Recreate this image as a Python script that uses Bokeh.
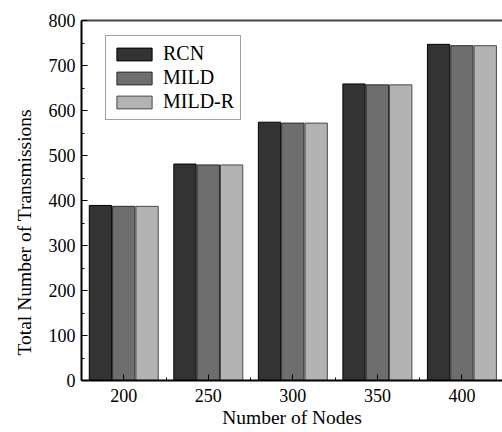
from bokeh.plotting import figure
from bokeh.models import (Range1d, LinearAxis, FixedTicker, Legend, LegendItem,
                          ColumnDataSource, Title)
from bokeh.embed import file_html
from bokeh.resources import INLINE

nodes = [200, 250, 300, 350, 400]
rcn = [389, 481, 574, 659, 747]
mild = [387, 479, 572, 657, 744]
mild_r = [387, 479, 572, 657, 744]
series_names = ["RCN", "MILD", "MILD-R"]
colors = ["#333333", "#6e6e6e", "#b3b3b3"]
edge_colors = ["#000000", "#2a2a2a", "#4a4a4a"]
x_ticks = nodes
x_minor = [225, 275, 325, 375]
y_ticks = list(range(0, 801, 100))
y_minor = list(range(50, 800, 100))

FONT = "Liberation Serif"

p = figure(width=502, height=432, output_backend="svg", toolbar_location=None,
           x_range=Range1d(175, 424), y_range=Range1d(0, 800),
           min_border_left=81, min_border_right=0, min_border_top=20, min_border_bottom=52)
p.outline_line_color = None
p.grid.grid_line_color = None
p.background_fill_color = "white"

offsets = [-13.8, 0, 13.8]
renderers = []
for name, vals, col, ec, off in zip(series_names, [rcn, mild, mild_r], colors, edge_colors, offsets):
    src = ColumnDataSource(dict(x=[n + off for n in nodes], top=vals))
    r = p.vbar(x="x", top="top", width=13.2, bottom=0, source=src,
               fill_color=col, line_color=ec, line_width=1)
    renderers.append((name, r))

for ax in p.xaxis + p.yaxis:
    ax.axis_line_color = "black"
    ax.axis_line_width = 2
    ax.major_tick_line_color = "black"
    ax.minor_tick_line_color = "black"
    ax.major_tick_in = 6
    ax.major_tick_out = 0
    ax.minor_tick_in = 3
    ax.minor_tick_out = 0
    ax.major_label_text_font = FONT
    ax.major_label_text_font_size = "18px"
    ax.major_label_text_color = "black"
    ax.axis_label_text_font = FONT
    ax.axis_label_text_font_style = "normal"
    ax.axis_label_text_color = "black"

p.xaxis.ticker = FixedTicker(ticks=x_ticks, minor_ticks=x_minor)
p.yaxis.ticker = FixedTicker(ticks=y_ticks, minor_ticks=y_minor)
p.xaxis.axis_label = "Number of Nodes"
p.xaxis.axis_label_text_font_size = "19.5px"
p.xaxis.major_label_standoff = 8
p.xaxis.axis_label_standoff = 2
p.yaxis.major_label_standoff = 6

top = LinearAxis(ticker=FixedTicker(ticks=[]), axis_line_color="#444444", axis_line_width=2,
                 major_tick_line_color=None, minor_tick_line_color=None,
                 major_label_text_font_size="0px")
p.add_layout(top, "above")

ytitle = Title(text="Total Number of Transmissions", align="left", offset=25, standoff=21,
               text_font=FONT, text_font_size="19.5px", text_font_style="normal",
               text_color="black")
p.add_layout(ytitle, "left")

legend = Legend(items=[LegendItem(label=n, renderers=[r]) for n, r in renderers],
                location=(24, 260), label_text_font=FONT, label_text_font_size="20px",
                label_text_color="black",
                glyph_width=44, glyph_height=16, label_height=16, spacing=1,
                padding=6, margin=0, label_standoff=7,
                border_line_color="#444444", border_line_width=1,
                background_fill_color="white", background_fill_alpha=1)
p.add_layout(legend)

open("out.html", "w").write(file_html(p, INLINE))
